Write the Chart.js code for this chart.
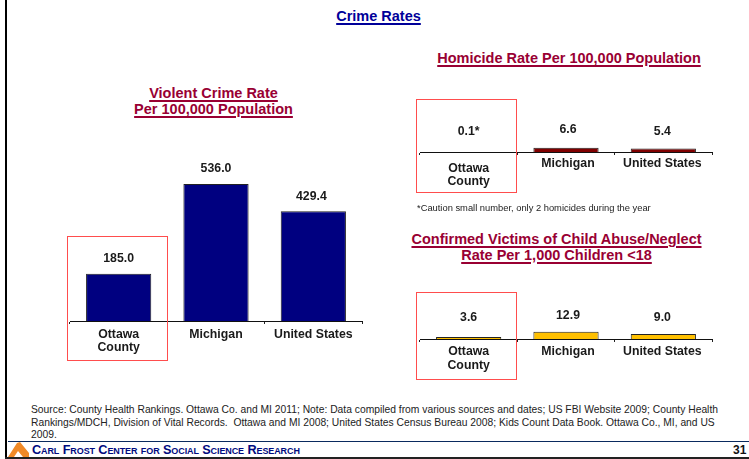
<!DOCTYPE html>
<html><head><meta charset="utf-8">
<script src="https://cdn.jsdelivr.net/npm/chart.js@4"></script>
<style>
html,body{margin:0;padding:0;background:#fff;width:749px;height:459px;overflow:hidden;font-family:"Liberation Sans",Arial,sans-serif}
.abs{position:absolute}
canvas{position:absolute}
.t{position:absolute;font-weight:bold;color:#990033;font-size:14.5px;line-height:15.5px;text-align:center;white-space:nowrap;transform:translateX(-50%)}
.t span{text-decoration:underline;text-decoration-thickness:1.5px;text-underline-offset:2px}
.box{position:absolute;border:1px solid #ff4d4d;box-sizing:border-box}
</style></head><body>
<div class="abs" style="left:5px;top:0;width:2px;height:459px;background:#000"></div>
<div class="abs" style="left:5px;top:457px;width:744px;height:2px;background:#222"></div>
<div class="abs" style="left:8px;top:441px;width:741px;height:1px;background:#0a2a5e"></div>
<div class="t" style="left:378.5px;top:9px;color:#000099"><span>Crime Rates</span></div>
<div class="t" style="left:213.5px;top:85px;line-height:16px"><span>Violent Crime Rate</span><br><span>Per 100,000 Population</span></div>
<div class="t" style="left:569px;top:51px"><span>Homicide Rate Per 100,000 Population</span></div>
<div class="t" style="left:556.5px;top:232px"><span>Confirmed Victims of Child Abuse/Neglect</span><br><span>Rate Per 1,000 Children &lt;18</span></div>
<canvas id="c1" width="312" height="250" style="left:60px;top:130px"></canvas>
<canvas id="c2" width="312" height="100" style="left:410px;top:100px"></canvas>
<canvas id="c3" width="312" height="100" style="left:410px;top:285px"></canvas>
<div class="box" style="left:67px;top:236px;width:101px;height:125px"></div>
<div class="box" style="left:416px;top:99px;width:101px;height:94px"></div>
<div class="box" style="left:416px;top:292px;width:101px;height:88px"></div>
<div class="abs" style="left:417px;top:203px;font-size:9.36px;color:#222;white-space:nowrap">*Caution small number, only 2 homicides during the year</div>
<div class="abs" style="left:31px;top:404px;width:712px;font-size:10.3px;line-height:12.5px;color:#222;white-space:nowrap">Source: County Health Rankings. Ottawa Co. and MI 2011; Note: Data compiled from various sources and dates; US FBI Website 2009; County Health<br>Rankings/MDCH, Division of Vital Records.&nbsp; Ottawa and MI 2008; United States Census Bureau 2008; Kids Count Data Book. Ottawa Co., MI, and US<br>2009.</div>
<svg class="abs" style="left:8px;top:442px" width="22" height="15" viewBox="0 0 22 15"><path d="M0 15 L9 1 L12 0 L21 11 L21 15 L15 15 L10 9 L6 15 Z" fill="#f08a28"/></svg>
<div class="abs" style="left:32px;top:443px;font-size:12.7px;font-weight:bold;font-variant:small-caps;color:#000a80;white-space:nowrap;letter-spacing:-.1px">Carl Frost Center for Social Science Research</div>
<div class="abs" style="left:733px;top:443px;font-size:12px;font-weight:bold;color:#111">31</div>
<script>
const categories = [["Ottawa","County"],["Michigan"],["United States"]];
const violentValues = [185.0, 536.0, 429.4];
const homicideValues = [0.1, 6.6, 5.4];
const abuseValues = [3.6, 12.9, 9.0];
const violentLabels = ["185.0","536.0","429.4"];
const homicideLabels = ["0.1*","6.6","5.4"];
const abuseLabels = ["3.6","12.9","9.0"];

const textPlugin = {
  id:'textPlugin',
  afterDraw(chart, args, o){
    const ctx = chart.ctx, x = chart.scales.x, y = chart.scales.y;
    ctx.save();
    ctx.fillStyle = '#1a1a1a';
    ctx.font = 'bold 12.3px "Liberation Sans", Arial, sans-serif';
    ctx.textAlign = 'center';
    ctx.textBaseline = 'middle';
    chart.getDatasetMeta(0).data.forEach((bar,i)=>{
      ctx.fillText(o.values[i], bar.x + (o.valueDx[i]||0), y.getPixelForValue(chart.data.datasets[0].data[i]) - o.valueGap[i]);
      const lines = chart.data.labels[i];
      lines.forEach((ln,j)=>{
        ctx.fillText(ln, x.getPixelForTick(i) + (o.catDx[i]||0), x.top + o.catGap[i] + j*o.lineStep);
      });
    });
    ctx.restore();
  }
};

function make(id, values, labels, colour, yMax, top, bottom, extra){
  return new Chart(document.getElementById(id),{
    type:'bar',
    data:{labels:categories,datasets:[{data:values,backgroundColor:colour,borderColor:'#222',borderWidth:1,
      categoryPercentage:1,barPercentage:0.67,borderSkipped:'bottom'}]},
    options:{
      responsive:false,animation:false,devicePixelRatio:1,
      layout:{padding:{left:10,right:10,top:top,bottom:bottom}},
      plugins:{legend:{display:false},tooltip:{enabled:false},
        textPlugin:Object.assign({values:labels},extra)},
      scales:{
        y:{display:false,min:0,max:yMax},
        x:{
          afterFit(s){s.height=3;},
          grid:{display:true,drawOnChartArea:false,drawTicks:true,tickLength:3,color:'#222',lineWidth:1},
          border:{display:true,color:'#111',width:1},
          ticks:{display:false}
        }
      }
    },
    plugins:[textPlugin]
  });
}
make('c1',violentValues,violentLabels,'#000080',700,12,56,
  {valueGap:[15,15,15],valueDx:[0,0,-2],catGap:[13.5,13.5,13.5],catDx:[0,0,0],lineStep:13.5});
make('c2',homicideValues,homicideLabels,'#800000',50,20,45,
  {valueGap:[20,18,17],valueDx:[0,2,-1],catGap:[16.5,12,12],catDx:[0,2,-1],lineStep:13});
make('c3',abuseValues,abuseLabels,'#ffc000',50,26,43,
  {valueGap:[19,16,16.5],valueDx:[0,2,-1],catGap:[13,13,13],catDx:[0,2,-1],lineStep:14});
</script>
</body></html>
